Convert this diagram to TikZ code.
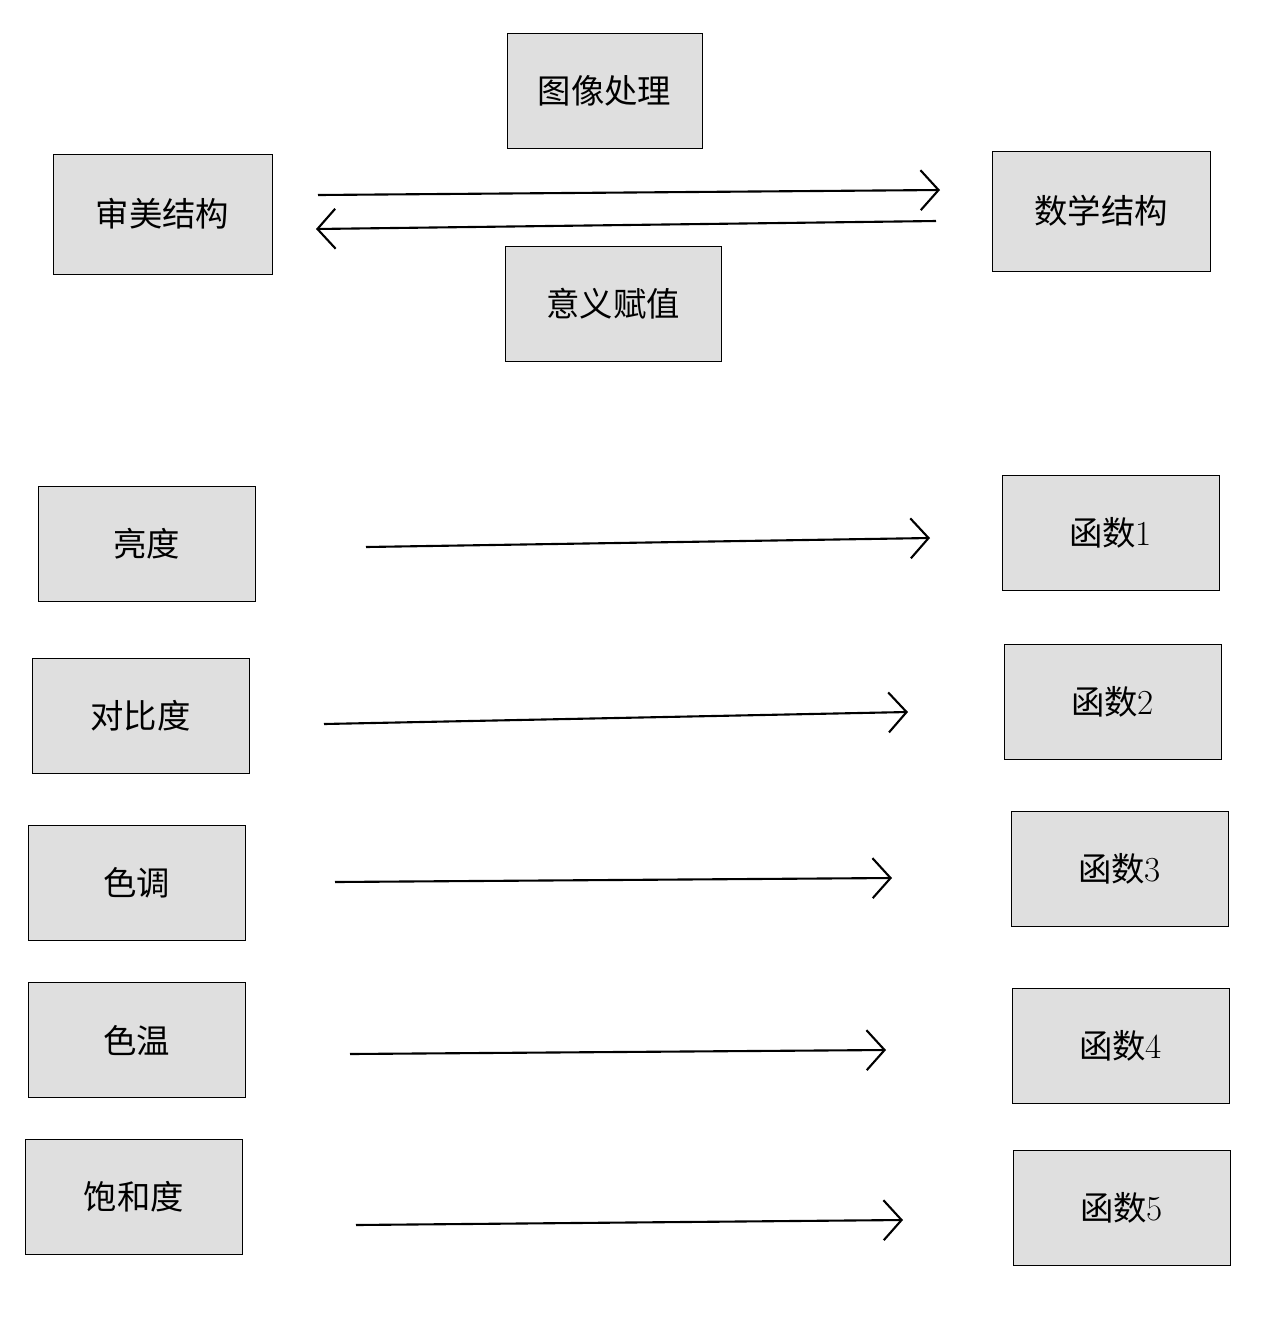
\documentclass[tikz,border=0pt]{standalone}
\usepackage{fontspec}
\newfontfamily\cjk{Noto Sans CJK SC}
\usetikzlibrary{positioning,arrows.meta}

\tikzset{
  box/.style={draw,fill=gray!25,minimum width=4.34cm,minimum height=2.3cm,
    font=\cjk\fontsize{19}{23}\selectfont,inner sep=0pt},
  link/.style={line width=1.2pt,-{Straight Barb[length=3.6mm,width=8mm,line width=1.2pt]}}
}
\newcommand{\fn}[1]{函数{\rmfamily\fontsize{20}{24}\selectfont #1}}

\begin{document}
\begin{tikzpicture}[x=0.02cm,y=-0.02cm]
\useasboundingbox (0,0) rectangle (1274,1320);

% upper part
\node[box,minimum width=3.9cm] (img) at (604.5,90.5) {图像处理};
\node[box,minimum height=2.4cm,minimum width=4.38cm] (aes) at (162.5,214) {审美结构};
\node[box,minimum height=2.4cm,minimum width=4.36cm] (math) at (1101,211) {数学结构};
\node[box,minimum width=4.32cm] (mean) at (613,304) {意义赋值};

\coordinate (a1) at (318,195);
\coordinate (b1) at (940,190);
\coordinate (a2) at (936,221);
\coordinate (b2) at (316,229);
\draw[link] (a1) -- (b1);
\draw[link] (a2) -- (b2);

% lower part
\node[box] (p1) at (146.5,543.5) {亮度};
\node[box] (p2) at (140.5,715.5) {对比度};
\node[box] (p3) at (136.5,882.5) {色调};
\node[box] (p4) at (136.5,1040) {色温};
\node[box] (p5) at (134,1196.5) {饱和度};

\node[box] (f1) at (1110.5,533) {\fn{1}};
\node[box] (f2) at (1112.5,701.5) {\fn{2}};
\node[box] (f3) at (1119.5,868.5) {\fn{3}};
\node[box] (f4) at (1120.5,1045.5) {\fn{4}};
\node[box] (f5) at (1121.5,1207.5) {\fn{5}};

\foreach \i/\xa/\ya/\xb/\yb in {1/366/547/930/538,2/324/724/908/712,3/335/882/892/878,4/350/1054/886/1050,5/356/1225/903/1220}{
  \coordinate (s\i) at (\xa,\ya);
  \coordinate (t\i) at (\xb,\yb);
  \draw[link] (s\i) -- (t\i);
}
\end{tikzpicture}
\end{document}
